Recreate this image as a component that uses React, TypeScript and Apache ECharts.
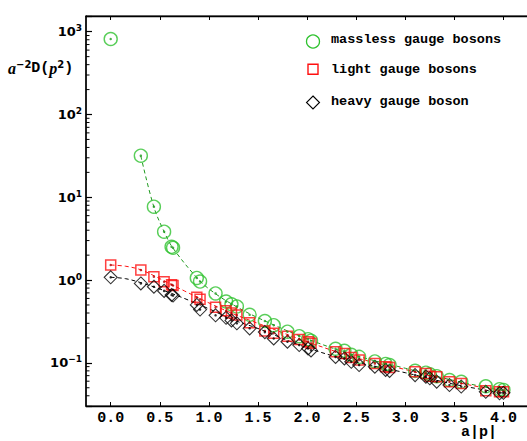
import React, { useEffect, useRef } from 'react';
import * as echarts from 'echarts';

// lattice momentum a|p| shared by the three data sets
const momenta = [0, 0.307, 0.44, 0.544, 0.62, 0.635, 0.877, 0.91, 1.068, 1.175, 1.23, 1.285, 1.415, 1.57, 1.66, 1.8, 1.92, 2.01, 2.04, 2.29, 2.38, 2.45, 2.53, 2.69, 2.8, 2.84, 3.1, 3.21, 3.25, 3.32, 3.45, 3.57, 3.82, 3.96, 4.0];
const massless = [817, 31.8, 7.7, 3.84, 2.52, 2.45, 1.06, 0.96, 0.69, 0.55, 0.51, 0.48, 0.38, 0.32, 0.285, 0.238, 0.21, 0.193, 0.185, 0.148, 0.14, 0.125, 0.118, 0.104, 0.097, 0.094, 0.08, 0.076, 0.073, 0.069, 0.062, 0.059, 0.052, 0.048, 0.047];
const light = [1.52, 1.32, 1.1, 0.955, 0.88, 0.86, 0.62, 0.585, 0.468, 0.425, 0.4, 0.378, 0.305, 0.243, 0.228, 0.21, 0.192, 0.18, 0.172, 0.136, 0.13, 0.116, 0.108, 0.098, 0.09, 0.088, 0.078, 0.0745, 0.069, 0.068, 0.059, 0.0563, 0.046, 0.0447, 0.0447];
const heavy = [1.08, 0.91, 0.83, 0.74, 0.66, 0.65, 0.5, 0.44, 0.375, 0.35, 0.325, 0.3, 0.261, 0.235, 0.197, 0.18, 0.164, 0.149, 0.141, 0.118, 0.113, 0.103, 0.094, 0.0897, 0.082, 0.08, 0.0711, 0.068, 0.065, 0.0593, 0.0539, 0.0517, 0.0447, 0.0428, 0.0434];

// dashed fit curves
const fitMasslessX = [0.307, 0.44, 0.544, 0.63, 0.9, 1.07, 1.25, 1.5, 2.0, 2.5, 3.0, 3.5, 4.0];
const fitMassless = [31.5, 7.6, 3.85, 2.47, 1.0, 0.68, 0.5, 0.35, 0.195, 0.122, 0.086, 0.061, 0.046];
const fitMassiveX = [0, 0.15, 0.307, 0.5, 0.75, 1.0, 1.25, 1.5, 2.0, 2.5, 3.0, 3.5, 4.0];
const fitLight = [1.52, 1.47, 1.33, 1.04, 0.74, 0.53, 0.39, 0.3, 0.18, 0.115, 0.083, 0.059, 0.045];
const fitHeavy = [1.08, 1.04, 0.93, 0.78, 0.6, 0.45, 0.33, 0.26, 0.152, 0.102, 0.076, 0.055, 0.043];

const xTicks = [0, 0.5, 1, 1.5, 2, 2.5, 3, 3.5, 4];
const yMinorTicks = [0.04, 0.05, 0.06, 0.07, 0.08, 0.09, 0.2, 0.3, 0.4, 0.5, 0.6, 0.7, 0.8, 0.9, 2, 3, 4, 5, 6, 7, 8, 9, 20, 30, 40, 50, 60, 70, 80, 90, 200, 300, 400, 500, 600, 700, 800, 900];
const legendNames = ['massless gauge bosons', 'light gauge bosons', 'heavy gauge boson'];

const X_MIN = -0.2515;
const X_MAX = 4.26;
const Y_MIN = 0.0301;
const Y_MAX = 1549;

const GREEN = '#2fc22f';
const GREEN_DARK = '#1f9a1f';
const RED = '#ff1010';
const MONO = '"Liberation Mono", "DejaVu Sans Mono", monospace';
const SANS = '"DejaVu Sans", sans-serif';

function pairs(xs: number[], ys: number[]) {
  return xs.map((x, i) => [x, ys[i]]);
}

export default function App() {
  const ref = useRef<HTMLDivElement>(null);
  useEffect(() => {
    if (!ref.current) return;
    const chart = echarts.init(ref.current, null, { renderer: 'svg' });
    const supExp = (v: number) => {
      const l = Math.log10(v);
      const r = Math.round(l);
      if (Math.abs(l - r) > 1e-6) return '';
      const e = r < 0 ? '\u2212' + Math.abs(r) : String(r);
      return `{b|10}{s|${e}}`;
    };
    const scatterBase = (name: string, data: number[][], symbol: string, size: number, color: string, bw: number) => ({
      name,
      type: 'scatter',
      data,
      symbol,
      symbolSize: size,
      itemStyle: { color: 'rgba(255,255,255,0)', borderColor: color, borderWidth: bw },
      z: 3,
    });
    const dots = (data: number[][], color: string) => ({
      type: 'scatter',
      data,
      symbol: 'circle',
      symbolSize: 2.5,
      itemStyle: { color },
      silent: true,
      z: 4,
    });
    const fit = (data: number[][], color: string) => ({
      type: 'line',
      data,
      smooth: 0.35,
      showSymbol: false,
      lineStyle: { color, width: 1, type: [4, 3] },
      silent: true,
      z: 2,
    });
    const option: any = {
      animation: false,
      grid: {
        left: 86,
        top: 16,
        right: -2,
        bottom: 35,
        show: true,
        borderColor: '#000',
        borderWidth: 1,
        containLabel: false,
        outerBoundsMode: 'none',
      },
      xAxis: [
        {
          type: 'value',
          min: X_MIN,
          max: X_MAX,
          axisLine: { show: true, onZero: false, lineStyle: { color: '#000', width: 1.3 } },
          splitLine: { show: false },
          axisTick: { show: true, inside: true, length: 4, customValues: xTicks, lineStyle: { color: '#000' } },
          axisLabel: {
            customValues: xTicks,
            formatter: (v: number) => v.toFixed(1),
            color: '#000',
            fontFamily: MONO,
            fontWeight: 'bold',
            fontSize: 15,
            margin: 5,
          },
        },
        {
          type: 'value',
          position: 'top',
          min: X_MIN,
          max: X_MAX,
          axisLine: { show: true, onZero: false, lineStyle: { color: '#000', width: 1.3 } },
          splitLine: { show: false },
          axisTick: { show: true, inside: true, length: 4, customValues: xTicks, lineStyle: { color: '#000' } },
          axisLabel: { show: false },
        },
      ],
      yAxis: {
        type: 'log',
        min: Y_MIN,
        max: Y_MAX,
        logBase: 10,
        axisLine: { show: true, onZero: false, lineStyle: { color: '#000', width: 1.5 } },
        splitLine: { show: false },
        axisTick: { show: true, inside: true, length: 6, lineStyle: { color: '#000', width: 1.2 } },
        axisLabel: {
          formatter: supExp,
          margin: 4,
          rich: {
            b: { fontFamily: SANS, fontWeight: 'bold', fontSize: 13, color: '#000', lineHeight: 16 },
            s: { fontFamily: SANS, fontWeight: 'bold', fontSize: 9, color: '#000', lineHeight: 9, verticalAlign: 'top' },
          },
        },
      },
      series: [
        {
          type: 'custom',
          silent: true,
          clip: false,
          z: 6,
          data: yMinorTicks.map((v) => [X_MIN, v]),
          renderItem: (params: any, api: any) => {
            const p = api.coord([api.value(0), api.value(1)]);
            return {
              type: 'line',
              shape: { x1: p[0], y1: p[1], x2: p[0] + 3.5, y2: p[1] },
              style: { stroke: '#000', lineWidth: 1 },
            };
          },
        },
        fit(pairs(fitMasslessX, fitMassless), GREEN_DARK),
        fit(pairs(fitMassiveX, fitLight), RED),
        fit(pairs(fitMassiveX, fitHeavy), '#000'),
        scatterBase(legendNames[0], pairs(momenta, massless), 'circle', 13, GREEN, 1.4),
        scatterBase(legendNames[1], pairs(momenta, light), 'rect', 10, RED, 1.5),
        scatterBase(legendNames[2], pairs(momenta, heavy), 'diamond', 13, '#000', 1.1),
        dots(pairs(momenta, massless), GREEN_DARK),
        dots(pairs(momenta, light), '#b00000'),
        dots(pairs(momenta, heavy), '#000'),
      ],
      graphic: [
        {
          type: 'text',
          x: 8,
          y: 68,
          style: {
            text: '{a|a}{s|\u22122}{d|D(}{a|p}{s|2}{d|)}',
            verticalAlign: 'middle',
            rich: {
              a: { font: 'italic bold 16px "Liberation Serif", serif', fill: '#000', lineHeight: 18 },
              d: { font: 'bold 15px ' + MONO, fill: '#000', lineHeight: 18 },
              s: { font: 'bold 10px ' + SANS, fill: '#000', lineHeight: 10, verticalAlign: 'top' },
            },
          },
        },
        {
          type: 'text',
          x: 461,
          y: 432,
          style: { text: 'a|p|', font: 'bold 15px ' + MONO, fill: '#000', verticalAlign: 'middle' },
        },
        {
          type: 'circle',
          shape: { cx: 313, cy: 41.5, r: 6.5 },
          style: { fill: 'none', stroke: GREEN, lineWidth: 1.3 },
        },
        {
          type: 'rect',
          shape: { x: 308, y: 64.2, width: 10, height: 10 },
          style: { fill: 'none', stroke: RED, lineWidth: 1.4 },
        },
        {
          type: 'polygon',
          shape: { points: [[313, 96], [319.5, 102.5], [313, 109], [306.5, 102.5]] },
          style: { fill: 'none', stroke: '#000', lineWidth: 1.1 },
        },
        {
          type: 'text', x: 331, y: 39.5,
          style: { text: legendNames[0], font: 'bold 13.5px ' + MONO, fill: '#000', verticalAlign: 'middle' },
        },
        {
          type: 'text', x: 331, y: 69.5,
          style: { text: legendNames[1], font: 'bold 13.5px ' + MONO, fill: '#000', verticalAlign: 'middle' },
        },
        {
          type: 'text', x: 331, y: 101,
          style: { text: legendNames[2], font: 'bold 13.5px ' + MONO, fill: '#000', verticalAlign: 'middle' },
        },
      ],
    };
    chart.setOption(option);
    return () => chart.dispose();
  }, []);
  return (
    <div
      ref={ref}
      style={{ position: 'fixed', left: 0, top: 0, width: 527, height: 441, background: '#fff' }}
    />
  );
}
